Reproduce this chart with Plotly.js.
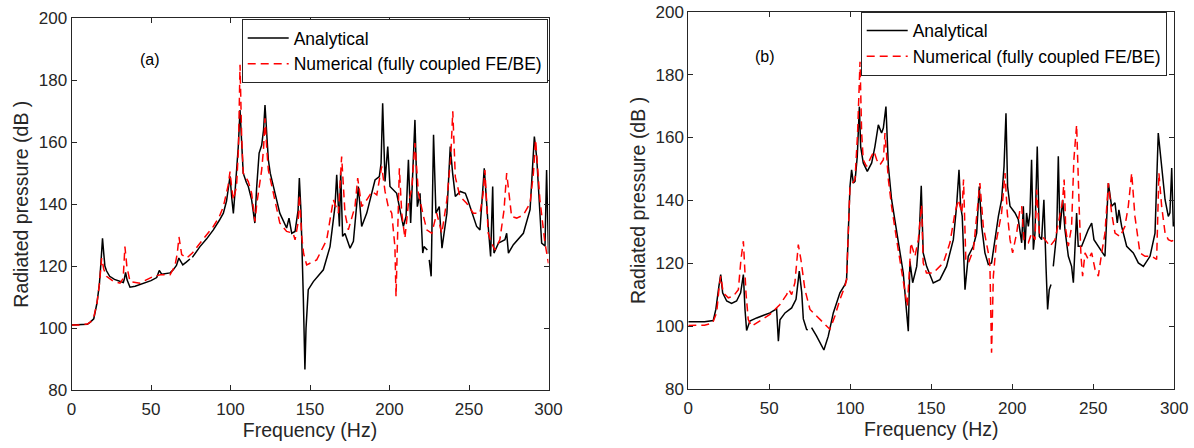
<!DOCTYPE html>
<html>
<head>
<meta charset="utf-8">
<script src="https://cdn.plot.ly/plotly-3.0.1.min.js"></script>
<style>html,body{margin:0;padding:0;background:#fff;}#chart{width:1194px;height:448px;}</style>
</head>
<body>
<div id="chart"></div>
<script>
// ---- Panel (a) ----
var freqA_an = [0,5,10,12,14,16,17.5,18.5,19.5,20.3,21,22,24,27,30.5,32.6,33.3,34,35,36.8,40,45,50,53.6,55.2,56.7,60,62,64,66,67.5,68.5,70,72,73.5,74.5,75.3,76,80.8,85,89.2,93,95.5,97.5,98.6,99.7,100.8,101.8,103,104.9,106,107,108,110,111.2,113.3,114.4,115.3,116.4,118,119.6,120.8,121.7,123,123.8,125,127,131,135.3,136.8,138.5,140.6,142.5,143.3,144.3,144.8,145.8,146.8,147.5,148.9,152.1,158.4,162.6,165.7,166.8,168.5,169.3,170.5,172,175.2,177.3,180.4,182.5,185.7,190.9,193.6,194.7,195.7,197.2,198.9,200.3,204.5,208.7,210.4,211.9,213.3,216,217.5,219.2,220.9,221.7,223.8,224.5,225,226.2,227.7,229.2,231.3,233,236.1,238.2,239.7,241.4,244.5,247.7,249.2,254.8,256.9,258.6,259.6,262.1,263.6,264.9,265.7,268.5,272.6,273.7,274.8,277.9,284.2,288.4,291.1,292.6,295.7,297.8,298.8,300];
var presA_an = [101,101,101.2,102,103,108,114,121,129,124,120,118.5,116.7,115.7,115,114.7,116,118,115.5,113.2,113.5,114.3,115.3,116.3,118.6,117.4,117.6,117.8,118.8,120.2,122.6,121.5,120.4,121.2,121.8,122.3,null,122.8,126.3,128.8,131.7,134.8,137.1,141,145.7,149,142,137,145,158.6,170.4,158,150,147,145.7,141.4,136,133.9,145,156.5,159,164,172,160,154.3,150,145.7,137.1,132.3,135.5,130.6,131.2,138,148.4,138,130.6,110,86.6,100,112.4,115,118.8,126.3,139.2,149.5,132.8,150.5,129.6,130.5,125.8,128,145.7,132.8,137.1,147.8,148.9,153.2,172.6,147.3,158.6,145.7,143.5,132.8,136,154.3,133.9,167.2,139.2,143.5,124.2,126.3,125.2,null,122,116.7,162.4,137.1,139.2,125.8,137.1,158.6,150,142.5,144.1,143.5,141.4,132.8,131.7,145.7,151.6,132.8,123.1,145.7,124.2,127.4,128.5,130.6,124.2,126.9,130.6,138.2,161.8,155,127.4,126.5,151,124];

var freqA_num = [0,5,10,12,14,16,17.5,19,20.3,22,26,30.5,32.5,33.6,34.8,36.8,43,51.5,56,62,65,66.5,67.6,69.3,72.4,76,80.8,85,89.2,93,95.5,98.5,99.7,100.8,101.8,103.8,105,106,107,108,111.2,113.3,115.4,116.5,118,119.6,120.8,121.7,122.8,123.8,127,131,135.3,139.4,140.6,142.5,143.3,144.3,144.8,146,147.9,154.2,160.5,164.7,167.9,169.9,172,174.1,178.3,180,182.5,185.7,189,192,195.1,197.2,199.2,201.4,203.4,204.1,205.2,206.2,207.7,209.7,211.9,214,216,218.2,221.4,223.4,226.6,229.7,232.9,236.1,238.5,239.8,241.4,244.3,248.5,252.7,256.9,258.8,260,262.1,264.2,266.3,269.4,272,273.7,275.2,276.8,280,284.2,288.4,290.5,291.9,293,294.6,297.8,300];
var presA_num = [101,101,101.3,102,103.5,108,114,122.6,119,116.7,115.2,114.5,116,126.3,120,115,114.5,116.7,117.2,117.2,120,124,129.4,123.7,122.6,124.2,127.4,130,132.8,136,139.2,146,150.5,145,141.4,145.7,158,185,162,150,147.3,143.5,134.4,140,145.7,151,158,167.7,158,151,143.5,133.9,131.2,130.6,128.5,134,143,133,129.6,124,120.4,122,128.5,141.4,137.1,155.4,137.1,131.7,139.2,148.4,139.2,141.4,144.1,143,152.2,144.1,139.2,137.1,126.3,110.2,136,151.6,137.1,129,140.3,145,159.7,143.5,136,131.7,130.6,137.1,130.6,141.4,155,170,148.7,142.5,140.3,137.1,137.1,143,151,130.6,127.4,125.2,128.5,138,150,142,136,135.5,136.5,140.3,150,160.8,152,141.4,127.4,120.9];

// ---- Panel (b) ----
var freqB_an = [0,10,15.4,17,18.9,20,21.2,23.7,26.7,29.8,32.3,34,35,36,38,42.2,50.4,54.5,55.6,56.6,59.7,63.8,66.5,68.5,70,71,73,73.7,75,76.1,79.2,83.7,86.4,89.5,93.6,96.7,97.7,99.8,100.8,101.9,102.9,104.3,105.6,106.4,108,110.5,113.2,115.2,117.3,119.3,120.4,122,123.5,125.5,128.6,132.7,134.8,135.8,136.8,138.5,141,142.6,143.8,145,147.1,151.2,155.3,159.4,163.6,165.6,167.1,168.1,169.1,170.8,172.8,175.9,178,179.6,181.1,183.1,185.2,187.2,189.3,191.4,193.4,194.9,196.1,197.1,198.6,201.7,203.7,205.8,206.8,207.8,208.8,209.9,210.9,211.9,213,214,215.4,216.7,218.1,219.5,220.8,221.8,222.8,223.9,224.6,225.3,227.4,228.4,229.4,231.1,232.5,234.6,236.6,237.7,239.7,240.7,242.8,246.9,249,250.4,253.1,257.2,259.3,261.3,263.4,264.8,265.8,267.5,270.6,274.7,277.8,280.9,285,288.1,290.1,291.6,294.3,296.3,297.3,298.4,299.4,300];
var presB_an = [101.4,101.4,101.8,105.3,112.7,116.4,110.6,108,107.2,108,110.6,116.4,105.3,98.6,101.6,102.6,104.2,105.5,95.2,102,104.2,105.8,108.5,117.5,110.8,102.3,99,98.7,null,99.5,96.8,92.4,96.8,104.2,110.6,113.2,114.8,144.4,149.7,145.5,146,154,169.8,157.1,151.9,149.2,151.9,157.1,164,161.4,163,169.8,150.8,140.2,130.7,116.9,104.2,98.4,120.6,113.8,119,129.6,144.6,123.3,119,113.7,114.8,119,127.5,138.1,149.7,138.1,134.9,111.6,122.2,125.4,129.6,144.4,131.7,123.3,119.6,120.1,127.5,134.9,140.2,150.8,167.7,144.4,138.1,136,133.9,126.5,138.1,124.3,136,131.7,136,152.9,124.3,129.6,157.1,128.5,127.5,140.2,119,105.3,111.6,113.2,null,119,129.6,154,130.7,140.2,130.7,122.2,119,113.8,136,125.4,125.4,130.7,132.8,127.5,125.4,122.2,145.5,138.1,139.2,132.8,137,131.7,125.4,123.3,120.1,119,122.2,129.6,161.4,152.9,140.2,134.9,136,150.3,131.7,133];

var freqB_num = [0,10,15,17.5,19.1,20,21.6,24.7,27.8,30.9,32.5,34,35.6,37,39,42.2,50.4,56.6,60.7,62.1,63.8,65.8,67.9,69.5,72,75.1,80.2,84.4,87.4,90.5,93.6,96.7,97.7,99.8,102.9,104.5,106,107,108,110,112.1,114.6,116.3,118.3,120.4,121.4,123.5,125.5,128.6,131.7,133.7,135.2,136.4,137.4,139.9,142,144,145,147,151.2,157.4,161.5,164.6,166.7,168.9,169.9,171.3,172.9,176,178.4,180,182.1,183.7,185.2,186.2,187.2,188.3,190.3,193.4,195.5,196.9,198.6,200.2,202.7,204.7,205.8,207.2,209.9,211.9,214,215,216.7,220.2,223.3,226.4,229.4,230.9,232,233,234.6,236.6,238,239.7,241.4,242.4,243.4,244.9,246.9,249,251.1,253.1,255.2,257.2,259.3,261.3,263.4,266.5,269.5,271.6,273.7,275.7,278.8,281.9,286,289.1,290.5,292.2,294.3,296.3,298.4,300];
var presB_num = [100.2,100.3,101,104.3,112.7,115.9,110.6,109,109.5,111.6,121.2,127,110.6,102.1,100,101,103.7,106.9,110,111.6,110,113.8,125.9,121.2,111.6,105.3,102.6,100.5,99,103.2,108.5,112.7,114.8,144.4,146.6,161.4,184.1,161.4,152.9,150.8,152.9,155.6,152.9,151.3,152.9,161.4,146.6,138.1,127.5,116.9,110.6,106.3,116.9,126.5,122.2,127.5,138.6,120.1,116.9,116.9,120.1,126.5,136,140.2,136,146.6,121.2,120.1,124.3,138.1,145.5,131.7,127.5,123.3,119,91.5,115.9,127.5,136,148.7,136,127.5,123.3,129.6,137,138.1,127.5,126.5,129.6,127.5,143.4,129.6,127.5,125.4,127.5,134.9,139.2,146.6,130.7,125.4,131.7,152.9,164,136,122.2,115.9,123.3,121.2,123.3,118,115.9,123.3,129.6,145.5,136,129.6,128.5,131.7,138.1,148.7,134.9,123.3,122.2,122.2,121.2,148.7,138.1,129.6,127.5,127,127.5];

var seriesNames = ['Analytical', 'Numerical (fully coupled FE/BE)'];
var xTitle = 'Frequency (Hz)';
var yTitle = 'Radiated pressure (dB )';
var panelLabels = ['(a)', '(b)'];

var FONT = 'Liberation Sans, Arial, sans-serif';
var AX = '#262626';
var anLine = {color: '#000000', width: 1.5};
var numLine = {color: '#ff0000', width: 1.5, dash: '8px,5px'};

var traces = [
  {x: freqA_an, y: presA_an, name: seriesNames[0], mode: 'lines', line: anLine, xaxis: 'x', yaxis: 'y', legend: 'legend', connectgaps: false},
  {x: freqA_num, y: presA_num, name: seriesNames[1], mode: 'lines', line: numLine, xaxis: 'x', yaxis: 'y', legend: 'legend'},
  {x: freqB_an, y: presB_an, name: seriesNames[0], mode: 'lines', line: anLine, xaxis: 'x2', yaxis: 'y2', legend: 'legend2', connectgaps: false},
  {x: freqB_num, y: presB_num, name: seriesNames[1], mode: 'lines', line: numLine, xaxis: 'x2', yaxis: 'y2', legend: 'legend2'}
];

function xa(domain, anchor) {
  return {domain: domain, anchor: anchor, range: [0, 300], dtick: 50, tick0: 0,
    showline: true, linecolor: AX, linewidth: 1, mirror: 'ticks', ticks: 'inside', ticklen: 5, tickcolor: AX,
    showgrid: false, zeroline: false, tickfont: {family: FONT, size: 17, color: AX}, ticklabelstandoff: 4,
    title: {text: xTitle, font: {family: FONT, size: 19.5, color: AX}, standoff: 4}};
}
function ya(domain, anchor) {
  return {domain: domain, anchor: anchor, range: [80, 200], dtick: 20, tick0: 80,
    showline: true, linecolor: AX, linewidth: 1, mirror: 'ticks', ticks: 'inside', ticklen: 5, tickcolor: AX,
    showgrid: false, zeroline: false, tickfont: {family: FONT, size: 17, color: AX},
    title: {text: yTitle, font: {family: FONT, size: 19.5, color: AX}, standoff: 4}};
}

var W = 1194, H = 448;
var legStyle = {bgcolor: '#ffffff', bordercolor: AX, borderwidth: 1, font: {family: FONT, size: 17.5, color: '#000'},
  xanchor: 'left', yanchor: 'top', tracegroupgap: 0, itemwidth: 41};

var layout = {
  width: W, height: H,
  margin: {l: 0, r: 0, t: 0, b: 0},
  paper_bgcolor: '#ffffff', plot_bgcolor: '#ffffff',
  showlegend: true,
  xaxis: xa([71.5 / W, 548.5 / W], 'y'),
  yaxis: ya([1 - 390 / H, 1 - 18.3 / H], 'x'),
  xaxis2: xa([688.3 / W, 1174.3 / W], 'y2'),
  yaxis2: ya([1 - 389 / H, 1 - 11.7 / H], 'x2'),
  legend: Object.assign({x: 241.7 / W, y: 1 - 19 / H}, legStyle),
  legend2: Object.assign({x: 860.7 / W, y: 1 - 11.7 / H}, legStyle),
  annotations: [
    {text: panelLabels[0], xref: 'paper', yref: 'paper', x: 150 / W, y: 1 - 60 / H, xanchor: 'center', yanchor: 'middle', showarrow: false, font: {family: FONT, size: 16, color: '#000'}},
    {text: panelLabels[1], xref: 'paper', yref: 'paper', x: 765 / W, y: 1 - 57 / H, xanchor: 'center', yanchor: 'middle', showarrow: false, font: {family: FONT, size: 16, color: '#000'}}
  ]
};

Plotly.newPlot('chart', traces, layout, {displayModeBar: false, staticPlot: true});
</script>
</body>
</html>
